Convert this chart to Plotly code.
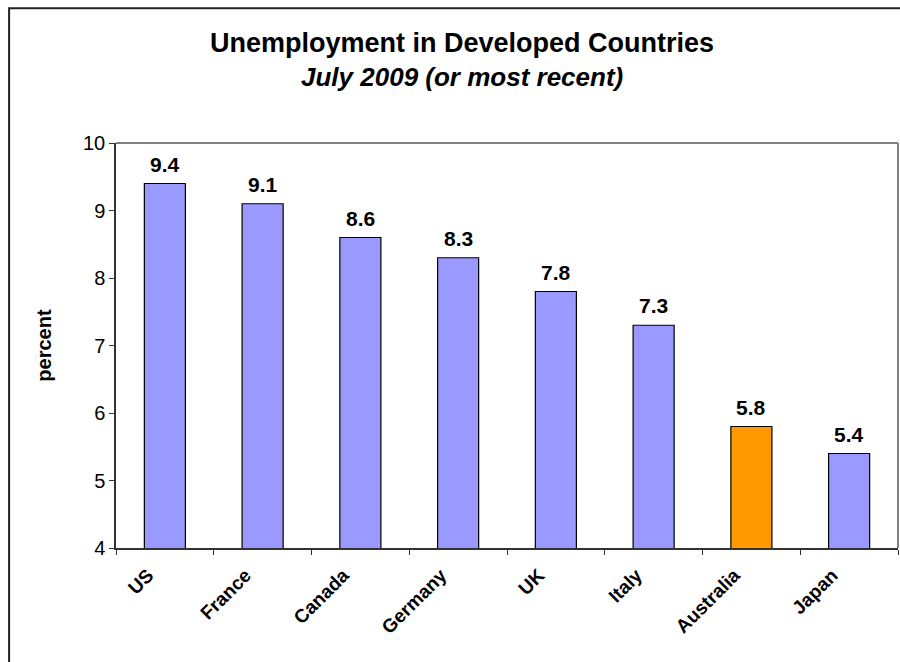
import plotly.graph_objects as go

countries = ["US", "France", "Canada", "Germany", "UK", "Italy", "Australia", "Japan"]
rates = [9.4, 9.1, 8.6, 8.3, 7.8, 7.3, 5.8, 5.4]
highlight = "Australia"
y_ticks = [4, 5, 6, 7, 8, 9, 10]

BLUE = "#9999FF"
ORANGE = "#FF9900"
FONT = "Liberation Sans, Arial"
colors = [ORANGE if c == highlight else BLUE for c in countries]

fig = go.Figure()
fig.add_trace(go.Bar(
    x=countries,
    y=rates,
    marker=dict(color=colors, line=dict(color="black", width=1.2)),
    width=0.42,
    hoverinfo="x+y",
))

# value labels above each bar
for c, v in zip(countries, rates):
    fig.add_annotation(
        x=c, y=v, text=f"<b>{v:.1f}</b>", showarrow=False,
        yanchor="bottom", yshift=6,
        font=dict(family=FONT, size=21, color="black"),
    )

# chart title and subtitle
fig.add_annotation(
    xref="paper", yref="paper", x=0.443, y=1.0,
    text="<b>Unemployment in Developed Countries</b>",
    showarrow=False, yanchor="bottom", yshift=83,
    font=dict(family=FONT, size=27, color="black"),
)
fig.add_annotation(
    xref="paper", yref="paper", x=0.443, y=1.0,
    text="<b><i>July 2009 (or most recent)</i></b>",
    showarrow=False, yanchor="bottom", yshift=49,
    font=dict(family=FONT, size=26, color="black"),
)

# gray plot-area border on top and right
fig.add_shape(type="line", xref="paper", yref="paper", x0=0, x1=1, y0=1, y1=1,
              line=dict(color="#808080", width=2))
fig.add_shape(type="line", xref="paper", yref="paper", x0=1, x1=1, y0=0, y1=1,
              line=dict(color="#808080", width=2))

# outer chart frame
fig.add_shape(type="rect", xref="paper", yref="paper",
              x0=-0.1367, x1=1.05, y0=-0.3, y1=1.3325,
              line=dict(color="#222222", width=2), fillcolor="rgba(0,0,0,0)")

fig.update_layout(
    width=900, height=662,
    margin=dict(l=116, r=2, t=143, b=114),
    paper_bgcolor="white", plot_bgcolor="white",
    showlegend=False,
    font=dict(family=FONT, color="black"),
    xaxis=dict(
        type="category",
        tickangle=-45,
        tickfont=dict(family=FONT, size=19, color="black", weight="bold"),
        ticklabelshift=-17, ticklabelstandoff=7,
        showline=True, linecolor="#333333", linewidth=1.5,
        ticks="outside", tickson="boundaries", ticklen=5, tickcolor="#333333",
        showgrid=False, zeroline=False,
    ),
    yaxis=dict(
        range=[4, 10],
        tickvals=y_ticks,
        tickfont=dict(family=FONT, size=20, color="black"),
        showline=True, linecolor="#333333", linewidth=1.5,
        ticks="outside", ticklen=5, tickcolor="#333333",
        showgrid=False, zeroline=False,
        title=dict(text="<b>percent</b>", font=dict(family=FONT, size=20, color="black"),
                   standoff=26),
    ),
)

fig.write_html("out.html")
